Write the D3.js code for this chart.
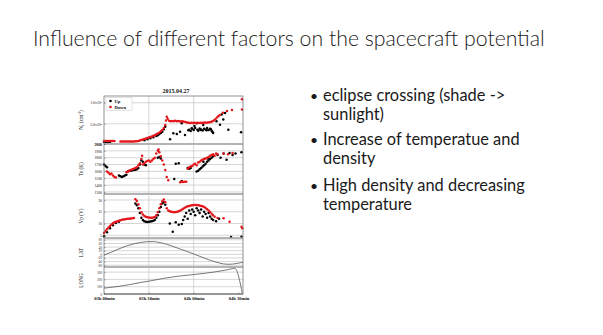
<!DOCTYPE html>
<html>
<head>
<meta charset="utf-8">
<script src="https://cdn.jsdelivr.net/npm/d3@7"></script>
<style>
  html, body { margin: 0; padding: 0; background: #fff; }
  svg { display: block; }
</style>
</head>
<body>
<svg id="slide" width="603" height="335"></svg>
<script>
// ---- slide text ----
const slideTitle = "Influence of different factors on the spacecraft potential";
const bulletLines = [
  ["eclipse crossing (shade ->", "sunlight)"],
  ["Increase of temperatue and", "density"],
  ["High density and decreasing", "temperature"]
];

// ---- chart labels ----
const chartTitle = "2015.04.27";
const seriesNames = ["Up", "Down"];
const timeTicks = [0, 30, 60, 90];              // minutes after 03h00
const timeTickLabels = ["03h 00min", "03h 30min", "04h 00min", "04h 30min"];

const neTicks = [2000, 50000, 100000];
const neTickLabels = ["2000", "5.0x10\u2074", "1.0x10\u2075"];
const teTicks = [1300, 1400, 1500, 1600, 1700, 1800, 1900, 2000];
const vpTicks = [5, 10, 15, 20];
const latTicks = [-60, -40, -20, 0, 20, 40, 60, 80];
const longTicks = [0, 100, 200, 300];

// ---- measurements: [minutes after 03h00, value] ----
const neUp = [[0,6500],[1,6800],[2,6500],[3,6700],[4,6500],[27,11000],[29,13000],[31,15500],[33,18000],[35,21000],[36,23000],[37,25500],[38,28000],[39,31000],[40,37000],[41,43000],[44.2,13200],[46.4,27500],[48.7,25800],[50.9,31200],[52,51000],[54.2,23400],[56.4,34500],[57,36000],[58,33000],[58.7,39400],[59,38000],[60,35000],[60.5,45000],[61,40000],[62,51000],[62.5,36000],[63,33500],[64,39000],[64.5,35500],[65,36500],[66,34000],[66.4,47000],[67,38500],[68,36000],[68.7,34500],[69,40000],[70,35000],[71,38000],[71.5,37000],[72,33000],[72.5,31000],[73,28000],[75.3,56000],[77.6,48000],[78.7,71800],[79.8,60000],[81,75800],[83.2,36000],[91.7,29900]];
const neDown = [[0,9100],[1,9300],[2,9000],[3,9200],[4,9100],[5,9300],[6,9000],[7,9100],[11,8000],[12,7900],[13,8000],[14,8100],[15,7900],[16,8000],[17,8100],[18,8000],[19,8100],[20,8200],[21,8400],[22,8700],[23,9200],[24,10200],[25,11300],[26,12500],[27,13800],[28,15200],[29,16500],[30,17500],[31,18500],[32,20000],[33,21500],[34,23000],[35,25000],[36,27000],[37,29000],[38,32000],[39,35000],[40,40000],[41,47000],[41.5,58000],[42,67000],[42.6,62000],[43.5,57000],[44.5,56000],[45.5,56500],[46.5,56000],[47.5,57000],[48.5,56000],[49.5,56500],[50.5,56000],[51.5,55500],[52.5,56000],[53.5,55000],[54.5,54500],[55.5,53000],[56.5,52500],[57.5,52000],[58.5,52500],[59.5,52000],[60.5,52500],[61.5,52000],[62.5,52500],[63.5,52000],[64.5,52500],[65.5,52000],[66.5,52500],[67.5,53000],[68.5,52500],[69.5,53000],[70.5,53500],[71.5,54500],[72.5,56000],[73.5,58000],[74.5,61000],[75.5,65000],[76.5,68000],[77.5,71000],[79.5,76000],[82.3,80600],[85.6,83000],[92.3,84000],[92.3,108400]];

const teUp = [[0,1700],[1,1680],[2,1660],[10,1540],[11,1530],[12,1520],[13,1530],[14,1540],[15,1550],[16,1600],[17,1610],[18,1610],[19,1615],[20,1620],[21,1625],[22,1630],[23,1650],[24,1700],[25,1760],[26,1740],[27,1700],[28,1690],[36,1800],[37,1810],[38,1790],[47,1490],[48,1710],[50,1720],[52,1460],[56,1650],[57,1640],[58,1650],[62,1600],[63,1610],[64,1630],[65,1650],[66,1670],[66.5,1740],[67,1690],[68,1710],[69,1740],[69.5,1790],[70,1760],[71,1780],[72,1800],[73,1820],[76,1840],[78,1800],[80,1860],[82,1770],[84,1870],[86,1840],[88,1860],[92,1880]];
const teDown = [[2,1600],[3,1580],[4,1560],[5,1570],[6,1540],[7,1520],[8,1510],[15,1590],[16,1600],[17,1610],[18,1620],[19,1630],[20,1640],[21,1650],[22,1660],[23,1690],[24,1720],[25,1780],[25.5,1830],[26,1700],[27,1720],[28,1740],[29,1750],[30,1760],[31,1740],[32,1760],[33,1780],[34,1800],[35,1860],[36,1900],[36.5,1920],[37,1880],[38,1820],[39,1760],[40,1700],[41,1620],[42,1520],[43,1470],[51,1440],[52,1450],[53,1445],[54,1450],[55,1450],[56,1640],[57,1660],[58,1670],[59,1680],[60,1700],[61,1710],[62,1690],[63,1730],[64,1740],[65,1760],[66,1770],[67,1780],[68,1790],[69,1800],[70,1810],[71,1830],[72,1840],[73,1850],[74,1830],[75,1860],[76,1850],[80,1860],[83,1850],[86,1870]];

const vpUp = [[0,4.6],[2,6.3],[4,8.0],[6,9.3],[8,10.2],[10,10.8],[21,18.5],[22,17.8],[23,16.5],[24,14.5],[25,12.5],[26,11.5],[27,11.0],[28,10.8],[29,10.7],[30,10.8],[31,10.9],[32,11.0],[33,11.2],[34,11.5],[35,12.5],[36,13.5],[37,15.0],[38,17.0],[39,18.5],[40,19.0],[41,18.0],[44,10.0],[46,6.5],[48,10.5],[50,9.5],[52,9.8],[53,11.5],[54,13.0],[55,14.5],[56,12.0],[57,15.5],[58,14.0],[59,16.0],[60,15.0],[61,13.5],[62,16.5],[63,15.5],[64,14.5],[65,16.0],[66,13.0],[67,15.0],[68,14.0],[69,12.5],[70,14.5],[71,13.0],[72,12.0],[73,11.5],[75,11.0],[77,12.0],[85,4.3],[92,4.4]];
const vpDown = [[0,6.0],[1,6.8],[2,7.6],[3,8.3],[4,9.0],[5,9.6],[6,10.1],[7,10.5],[8,10.8],[9,11.0],[10,11.2],[11,11.4],[12,11.6],[13,11.7],[14,11.8],[15,11.9],[16,12.0],[17,12.0],[18,12.1],[19,12.2],[20,12.4],[21,20.3],[22,19.6],[23,18.2],[24,16.5],[25,14.8],[26,13.8],[27,13.2],[28,12.9],[29,12.7],[30,12.6],[31,12.5],[32,12.5],[33,12.6],[34,12.8],[35,13.5],[36,14.8],[37,16.5],[38,18.2],[39,19.5],[40,20.2],[41,19.0],[42,16.5],[43,15.5],[44,15.2],[45,15.0],[46,14.9],[47,14.8],[48,14.9],[49,15.0],[50,15.2],[51,15.5],[52,15.9],[53,16.3],[54,16.7],[55,17.0],[56,17.3],[57,17.5],[58,17.7],[59,17.8],[60,17.9],[61,17.9],[62,17.9],[63,17.8],[64,17.7],[65,17.5],[66,17.3],[67,17.0],[68,16.6],[69,16.1],[70,15.5],[71,14.9],[72,14.2],[73,13.5],[74,12.9],[76,12.3],[80,12.2],[84,10.8],[92,8.6],[92.5,8.0]];

const latTrack = [[0,-4],[5,12],[10,30],[15,46],[20,58],[25,66],[30,70],[33,70],[36,67],[40,60],[45,47],[50,32],[55,17],[60,2],[65,-14],[70,-30],[75,-43],[80,-53],[83,-55],[86,-54],[89,-50],[93,-44]];
const longTrack = [[0,80],[10,105],[17,128],[25,160],[31,180],[40,215],[50,245],[58,262],[68,285],[75,305],[82,330],[86,348],[87.5,352],[92.5,12]];

// ---- drawing ----
const svg = d3.select("#slide");
const sans = "Lato, 'Open Sans', sans-serif";
const serif = "'Liberation Serif', 'DejaVu Serif', serif";
const upColor = "#000000", downColor = "#e3161b";

// fit a text element's font size to a target width
function fitWidth(sel, target) {
  const base = parseFloat(sel.attr("font-size"));
  const w = sel.node().getComputedTextLength();
  sel.attr("font-size", base * target / w);
}

// slide title
const titleEl = svg.append("text")
  .attr("x", 33).attr("y", 46)
  .attr("font-family", sans).attr("font-weight", 300).attr("font-size", 20).attr("fill", "#1a1a1a")
  .text(slideTitle);
fitWidth(titleEl, 512);

// bullet list
const lineBaselines = [[101, 120], [145, 164], [191, 210]];
const probe = svg.append("text").attr("font-family", sans).attr("font-size", 16).text(bulletLines[2][0]);
const bulletSize = 16 * 202 / probe.node().getComputedTextLength();
probe.remove();
bulletLines.forEach((lines, i) => {
  svg.append("text")
    .attr("x", 310).attr("y", lineBaselines[i][0])
    .attr("font-family", sans).attr("font-size", bulletSize * 0.85).attr("fill", "#1a1a1a")
    .text("\u2022");
  lines.forEach((ln, j) => {
    svg.append("text")
      .attr("x", 323).attr("y", lineBaselines[i][j])
      .attr("font-family", sans).attr("font-size", bulletSize).attr("fill", "#1a1a1a")
      .text(ln);
  });
});

// chart
const left = 104, right = 243;
const x = d3.scaleLinear().domain([0, 93]).range([left, right]);

const panels = [
  { top: 96,  bottom: 144, domain: [2000, 116000], ticks: neTicks, fmt: (d, i) => neTickLabels[i], up: neUp, down: neDown, label: "ne" },
  { top: 144, bottom: 194, domain: [1270, 2000], ticks: teTicks, fmt: d => String(d), up: teUp, down: teDown, label: "Te (K)" },
  { top: 194, bottom: 238, domain: [3.85, 22.55], ticks: vpTicks, fmt: d => String(d), up: vpUp, down: vpDown, label: "Vp (V)" },
  { top: 238, bottom: 267, domain: [-70, 90], ticks: latTicks, fmt: d => String(d), track: latTrack, label: "LAT" },
  { top: 267, bottom: 294, domain: [0, 370], ticks: longTicks, fmt: d => String(d), track: longTrack, label: "LONG" }
];

const chart = svg.append("g");

panels.forEach(p => {
  const y = d3.scaleLinear().domain(p.domain).range([p.bottom, p.top]);
  const g = chart.append("g");

  // horizontal grid
  g.selectAll("line.hg").data(p.ticks.filter(t => y(t) > p.top + 1 && y(t) < p.bottom - 1)).join("line")
    .attr("x1", left).attr("x2", right)
    .attr("y1", d => y(d)).attr("y2", d => y(d))
    .attr("stroke", "#c4c4c4").attr("stroke-width", 0.7);

  // vertical grid
  g.selectAll("line.vg").data(timeTicks.slice(1, 3)).join("line")
    .attr("x1", d => x(d)).attr("x2", d => x(d))
    .attr("y1", p.top).attr("y2", p.bottom)
    .attr("stroke", "#c4c4c4").attr("stroke-width", 0.7);

  // left axis
  const ax = g.append("g").attr("transform", `translate(${left},0)`)
    .call(d3.axisLeft(y).tickValues(p.ticks).tickFormat(p.fmt).tickSizeInner(-1.5).tickSizeOuter(0).tickPadding(2));
  ax.select(".domain").remove();
  ax.selectAll("line").attr("stroke", "#555").attr("stroke-width", 0.5);
  ax.selectAll("text").attr("font-family", serif).attr("font-size", p.track ? 3.2 : 3.8).attr("fill", "#222");

  // data
  if (p.track) {
    g.append("path").datum(p.track)
      .attr("d", d3.line().x(d => x(d[0])).y(d => y(d[1])).curve(d3.curveMonotoneX))
      .attr("fill", "none").attr("stroke", "#555").attr("stroke-width", 0.8);
  } else {
    [[p.up, upColor], [p.down, downColor]].forEach(([data, col]) => {
      g.selectAll(null).data(data).join("circle")
        .attr("cx", d => x(d[0])).attr("cy", d => y(d[1]))
        .attr("r", 1.25).attr("fill", col);
    });
  }

  // axis title
  const cy = (p.top + p.bottom) / 2;
  const t = g.append("text")
    .attr("transform", `translate(83,${cy}) rotate(-90)`)
    .attr("text-anchor", "middle")
    .attr("font-family", serif).attr("font-size", 5.2).attr("fill", "#111");
  if (p.label === "ne") {
    t.append("tspan").text("N");
    t.append("tspan").attr("font-size", 3.6).attr("dy", 1).text("e");
    t.append("tspan").attr("dy", -1).text(" (cm");
    t.append("tspan").attr("font-size", 3.6).attr("dy", -1.8).text("-3");
    t.append("tspan").attr("dy", 1.8).text(")");
  } else {
    t.text(p.label);
  }

  // panel separator
  g.append("line").attr("x1", left).attr("x2", right)
    .attr("y1", p.bottom).attr("y2", p.bottom)
    .attr("stroke", "#9a9a9a").attr("stroke-width", 1.6);
});

// outer frame
chart.append("rect")
  .attr("x", left).attr("y", 96).attr("width", right - left).attr("height", 294 - 96)
  .attr("fill", "none").attr("stroke", "#666").attr("stroke-width", 0.7);

// time axis
const xa = chart.append("g").attr("transform", "translate(0,294)")
  .call(d3.axisBottom(x).tickValues(timeTicks).tickFormat((d, i) => timeTickLabels[i]).tickSizeInner(-1.5).tickSizeOuter(0).tickPadding(3));
xa.select(".domain").remove();
xa.selectAll("line").attr("stroke", "#555").attr("stroke-width", 0.5);
xa.selectAll("text").attr("font-family", serif).attr("font-size", 4.6).attr("font-weight", "bold").attr("fill", "#111");

// chart title
chart.append("text")
  .attr("x", 176).attr("y", 93).attr("text-anchor", "middle")
  .attr("font-family", serif).attr("font-size", 6).attr("font-weight", "bold").attr("fill", "#111")
  .text(chartTitle);

// legend
const lg = chart.append("g");
lg.append("rect").attr("x", 106).attr("y", 97.5).attr("width", 26).attr("height", 13)
  .attr("fill", "#fff").attr("stroke", "#bbb").attr("stroke-width", 0.4);
[[upColor, 101], [downColor, 107]].forEach(([col, yy], i) => {
  lg.append("circle").attr("cx", 110.5).attr("cy", yy).attr("r", 1.3).attr("fill", col);
  lg.append("text").attr("x", 114.5).attr("y", yy + 1.6)
    .attr("font-family", serif).attr("font-size", 4.6).attr("font-weight", "bold").attr("fill", "#111")
    .text(seriesNames[i]);
});
</script>
</body>
</html>
